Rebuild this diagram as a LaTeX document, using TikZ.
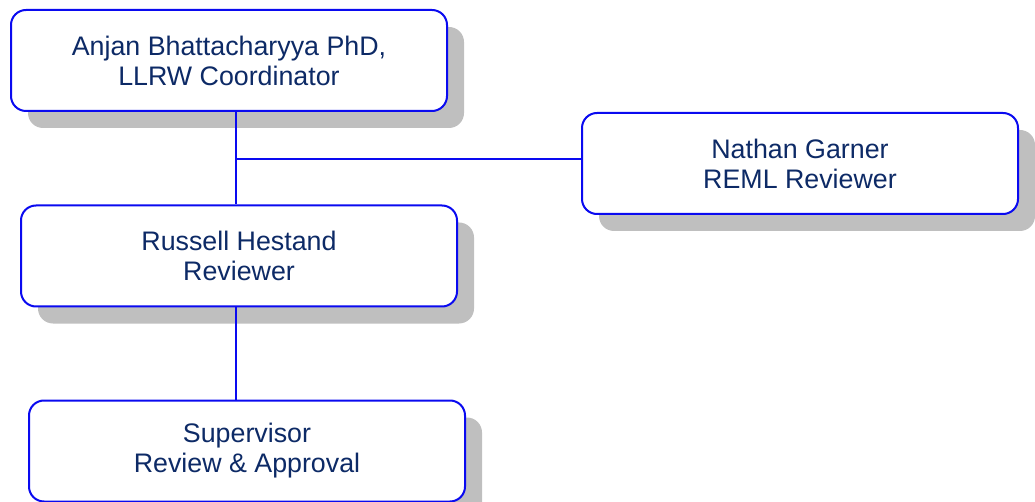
\documentclass[tikz,border=0pt]{standalone}
\usepackage{fontspec}
\setmainfont{Liberation Sans}
\usetikzlibrary{shadows}
\usetikzlibrary{calc}
\definecolor{boxblue}{HTML}{0A0AF0}
\definecolor{namenavy}{HTML}{0D2A66}
\tikzset{
    role/.style={
           rectangle,
           rounded corners=15pt,
           draw=boxblue, line width=2pt,
           fill=white,
           minimum width=436pt,
           minimum height=101pt,
           inner sep=2pt,
           align=center,
           text=namenavy,
           font=\fontsize{26.8}{30}\selectfont,
           drop shadow={shadow xshift=17pt, shadow yshift=-17pt, fill=black!25, opacity=1},
           },
    link/.style={draw=boxblue, line width=2pt},
}
\begin{document}
\begin{tikzpicture}[x=1pt,y=-1pt]
      \useasboundingbox (0,0) rectangle (1035,502);
      \node[role] (coord)  at (229,60.5) {Anjan Bhattacharyya PhD,\\LLRW Coordinator};
      \node[role] (nathan) at (800,163.5) {Nathan Garner\\REML Reviewer};
      \node[role] (russell) at (239,256) {Russell Hestand\\Reviewer};
      \node[role] (super)  at (247,451) {Supervisor\\Review \& Approval};
      \coordinate (tap) at (236,159);
      \path[link]
      (coord.south -| tap) -- (tap) -- (russell.north -| tap)
      (tap) -- (nathan.west |- tap)
      (russell.south -| tap) -- (super.north -| tap);
\end{tikzpicture}
\end{document}
